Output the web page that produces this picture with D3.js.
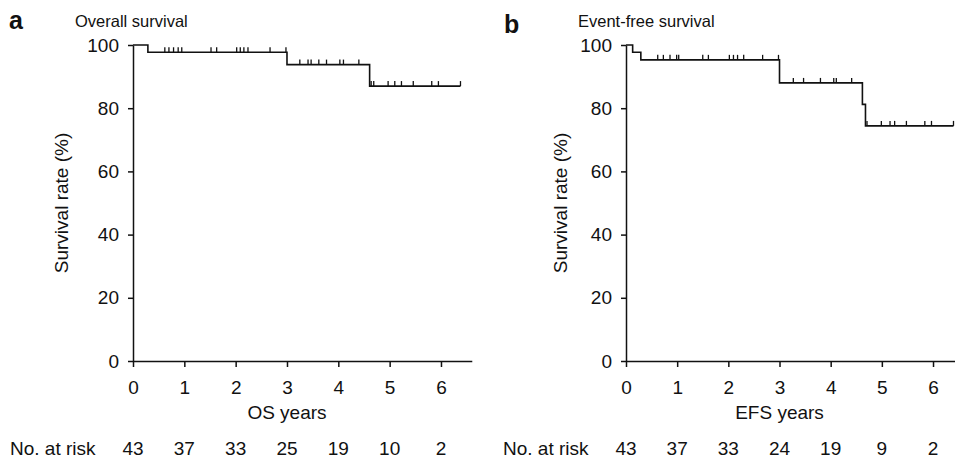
<!DOCTYPE html>
<html lang="en">
<head>
<meta charset="UTF-8">
<title>Survival</title>
<script src="https://d3js.org/d3.v7.min.js"></script>
<style>
  body { margin: 0; background: #fff; }
  svg { display: block; font-family: "Liberation Sans", Arial, sans-serif; }
  .axis path, .axis line { stroke: #111; stroke-width: 1.5px; }
  .axis text { font-size: 19px; fill: #111; font-family: "Liberation Sans", Arial, sans-serif; }
</style>
</head>
<body>
<svg id="chart" width="955" height="460"></svg>
<script>
// tick labels
const yearTicks = [0, 1, 2, 3, 4, 5, 6];
const rateTicks = [0, 20, 40, 60, 80, 100];

// overall survival: step times (years) and survival (%) after each step
const osTimes = [0, 0.29, 3.0, 4.61];
const osSurv = [100, 97.7, 93.8, 87.0];
const osEnd = 6.38;
const osCensor = [0.62, 0.70, 0.79, 0.88, 0.95, 1.52, 1.63, 2.02, 2.09, 2.16, 2.24, 2.67, 2.98,
  3.25, 3.41, 3.47, 3.62, 3.77, 4.03, 4.10, 4.40, 4.64, 4.69, 4.97, 5.10, 5.23, 5.46, 5.82, 5.95, 6.38];
const osRisk = [43, 37, 33, 25, 19, 10, 2];

// event-free survival
const efsTimes = [0, 0.13, 0.29, 3.0, 4.62, 4.68];
const efsSurv = [100, 97.7, 95.3, 88.0, 81.2, 74.4];
const efsEnd = 6.40;
const efsCensor = [0.62, 0.73, 0.86, 0.99, 1.03, 1.50, 1.61, 2.02, 2.10, 2.18, 2.30, 2.67, 2.98,
  3.27, 3.47, 3.80, 4.06, 4.11, 4.41, 4.71, 4.99, 5.16, 5.25, 5.48, 5.84, 5.97, 6.40];
const efsRisk = [43, 37, 33, 24, 19, 9, 2];

const svg = d3.select("#chart");

function panel(opt) {
  const x = d3.scaleLinear().domain([0, 6.6]).range([opt.x0, opt.x0 + 6.6 * opt.perYear]);
  const y = d3.scaleLinear().domain([0, 100]).range([361, 45]);
  const g = svg.append("g");

  // panel letter and title
  g.append("text").attr("x", opt.letterX).attr("y", opt.letterY)
    .style("font-size", "25px").style("font-weight", "bold").attr("fill", "#111").text(opt.letter);
  g.append("text").attr("x", opt.titleX).attr("y", 27)
    .style("font-size", "16.5px").attr("fill", "#111").text(opt.title);

  // axes
  g.append("g").attr("class", "axis").attr("transform", "translate(" + opt.x0 + ",0)")
    .call(d3.axisLeft(y).tickValues(rateTicks).tickSize(5).tickSizeOuter(0).tickPadding(9));
  g.append("g").attr("class", "axis").attr("transform", "translate(0,361)")
    .call(d3.axisBottom(x).tickValues(yearTicks).tickFormat(d3.format("d"))
      .tickSize(6).tickSizeOuter(0).tickPadding(14));

  g.append("text")
    .attr("transform", "translate(" + opt.yTitleX + "," + y(50) + ") rotate(-90)")
    .attr("text-anchor", "middle").style("font-size", "19px").attr("fill", "#111")
    .text("Survival rate (%)");
  g.append("text").attr("x", x(3)).attr("y", 419).attr("text-anchor", "middle")
    .style("font-size", "19px").attr("fill", "#111").text(opt.xTitle);

  // numbers at risk
  g.append("text").attr("x", opt.riskX).attr("y", 455)
    .style("font-size", "19px").attr("fill", "#111").text("No. at risk");
  g.selectAll(".risk").data(opt.risk).enter().append("text")
    .attr("x", (d, i) => x(yearTicks[i])).attr("y", 455).attr("text-anchor", "middle")
    .style("font-size", "19px").attr("fill", "#111").text(d => d);

  // KM step curve
  const pts = opt.times.map((t, i) => [t, opt.surv[i]]);
  pts.push([opt.end, opt.surv[opt.surv.length - 1]]);
  const line = d3.line().x(d => x(d[0])).y(d => y(d[1])).curve(d3.curveStepAfter);
  g.append("path").datum(pts).attr("d", line)
    .attr("fill", "none").attr("stroke", "#111").attr("stroke-width", 1.6);

  // censor marks
  const survAt = t => opt.surv[d3.bisectRight(opt.times, t) - 1];
  g.selectAll(".cens").data(opt.censor).enter().append("line")
    .attr("x1", d => x(d)).attr("x2", d => x(d))
    .attr("y1", d => y(survAt(d))).attr("y2", d => y(survAt(d)) - 5)
    .attr("stroke", "#111").attr("stroke-width", 1.3);
}

panel({
  letter: "a", letterX: 9, letterY: 29, title: "Overall survival", titleX: 75,
  x0: 133, perYear: 51.33, yTitleX: 68, xTitle: "OS years", riskX: 10,
  times: osTimes, surv: osSurv, end: osEnd, censor: osCensor, risk: osRisk
});
panel({
  letter: "b", letterX: 504, letterY: 33, title: "Event-free survival", titleX: 578,
  x0: 626, perYear: 51.17, yTitleX: 567, xTitle: "EFS years", riskX: 503,
  times: efsTimes, surv: efsSurv, end: efsEnd, censor: efsCensor, risk: efsRisk
});
</script>
</body>
</html>
